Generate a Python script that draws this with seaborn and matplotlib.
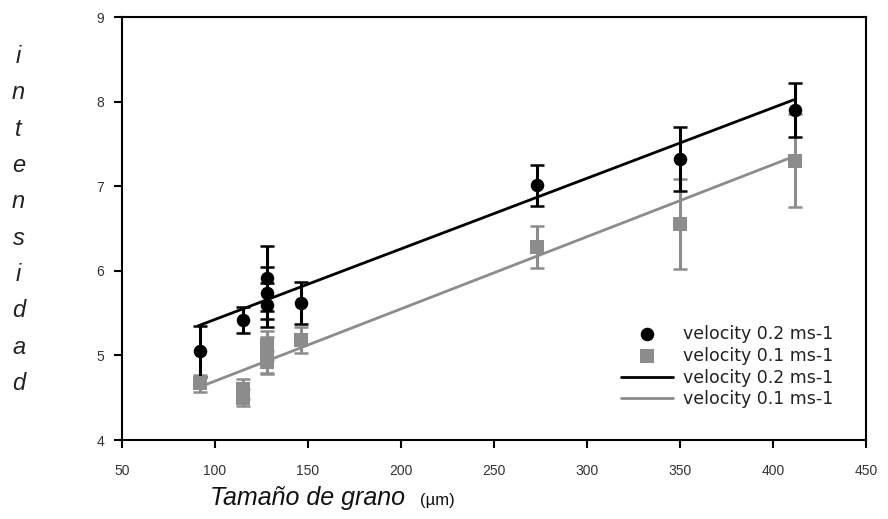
import numpy as np
import pandas as pd
import seaborn as sns
import matplotlib.pyplot as plt

# values
x_02 = [92, 115, 128, 128, 128, 146, 273, 350, 412]
y_02 = [5.05, 5.42, 5.91, 5.74, 5.60, 5.62, 7.01, 7.32, 7.90]
err_02 = [0.30, 0.15, 0.38, 0.31, 0.26, 0.25, 0.24, 0.38, 0.32]

x_01 = [92, 115, 115, 128, 128, 128, 146, 273, 350, 412]
y_01 = [4.67, 4.60, 4.50, 5.12, 5.00, 4.92, 5.18, 6.28, 6.55, 7.30]
err_01 = [0.10, 0.12, 0.10, 0.17, 0.22, 0.13, 0.15, 0.25, 0.53, 0.55]

fit_x = [91, 411]
fit_02 = [5.35, 8.02]
fit_01 = [4.62, 7.35]

label_02 = 'velocity 0.2 ms-1'
label_01 = 'velocity 0.1 ms-1'
grey = '#8c8c8c'

sns.set_style('white')
plt.rcParams['font.family'] = ['Liberation Sans', 'DejaVu Sans']

fig = plt.figure(figsize=(8.88, 5.19), dpi=100)
ax = fig.add_axes([0.1374, 0.1522, 0.8378, 0.815])

df02 = pd.DataFrame({'x': x_02, 'y': y_02})
df01 = pd.DataFrame({'x': x_01, 'y': y_01})

# error bars first, markers on top
ax.errorbar(x_01, y_01, yerr=err_01, fmt='none', ecolor=grey, elinewidth=2.2,
            capsize=5, capthick=1.8, zorder=2)
ax.errorbar(x_02, y_02, yerr=err_02, fmt='none', ecolor='black', elinewidth=2.2,
            capsize=5, capthick=1.8, zorder=3)

sns.scatterplot(data=df02, x='x', y='y', ax=ax, marker='o', s=95, color='black',
                edgecolor='black', linewidth=0, label=label_02, zorder=5)
sns.scatterplot(data=df01, x='x', y='y', ax=ax, marker='s', s=95, color=grey,
                edgecolor=grey, linewidth=0, label=label_01, zorder=4)

sns.lineplot(x=fit_x, y=fit_02, ax=ax, color='black', linewidth=2.0,
             label=label_02, zorder=4)
sns.lineplot(x=fit_x, y=fit_01, ax=ax, color=grey, linewidth=2.0,
             label=label_01, zorder=3)

ax.set_xlim(50, 450)
ax.set_ylim(4, 9)
ax.set_xticks(np.arange(50, 451, 50))
ax.set_yticks([4, 5, 6, 7, 8, 9])
ax.tick_params(axis='both', direction='out', length=6, width=1.5, color='black',
               labelsize=10, labelcolor='#333333', bottom=True, left=True)
ax.tick_params(axis='x', pad=11)
ax.tick_params(axis='y', pad=7)
for sp in ax.spines.values():
    sp.set_color('black')
    sp.set_linewidth(1.5)
ax.set_xlabel('')
ax.set_ylabel('')

leg = ax.legend(loc='lower right', bbox_to_anchor=(0.97, 0.05), frameon=False,
                prop={'family': 'DejaVu Sans', 'size': 12.5},
                handlelength=3.0, handletextpad=0.55,
                labelspacing=0.22, borderaxespad=0.2)
for t in leg.get_texts():
    t.set_color('#222222')

fig.text(0.021, 0.576, '\n'.join('intensidad'), fontsize=17, style='italic',
         ha='center', va='center', linespacing=1.74, color='#222222')
fig.text(0.236, 0.027, 'Tamaño de grano', fontsize=18, style='italic',
         ha='left', va='baseline', color='#111111')
fig.text(0.473, 0.027, '(µm)', fontsize=12, ha='left', va='baseline',
         color='#111111')

fig.savefig('out.png', dpi=100)
